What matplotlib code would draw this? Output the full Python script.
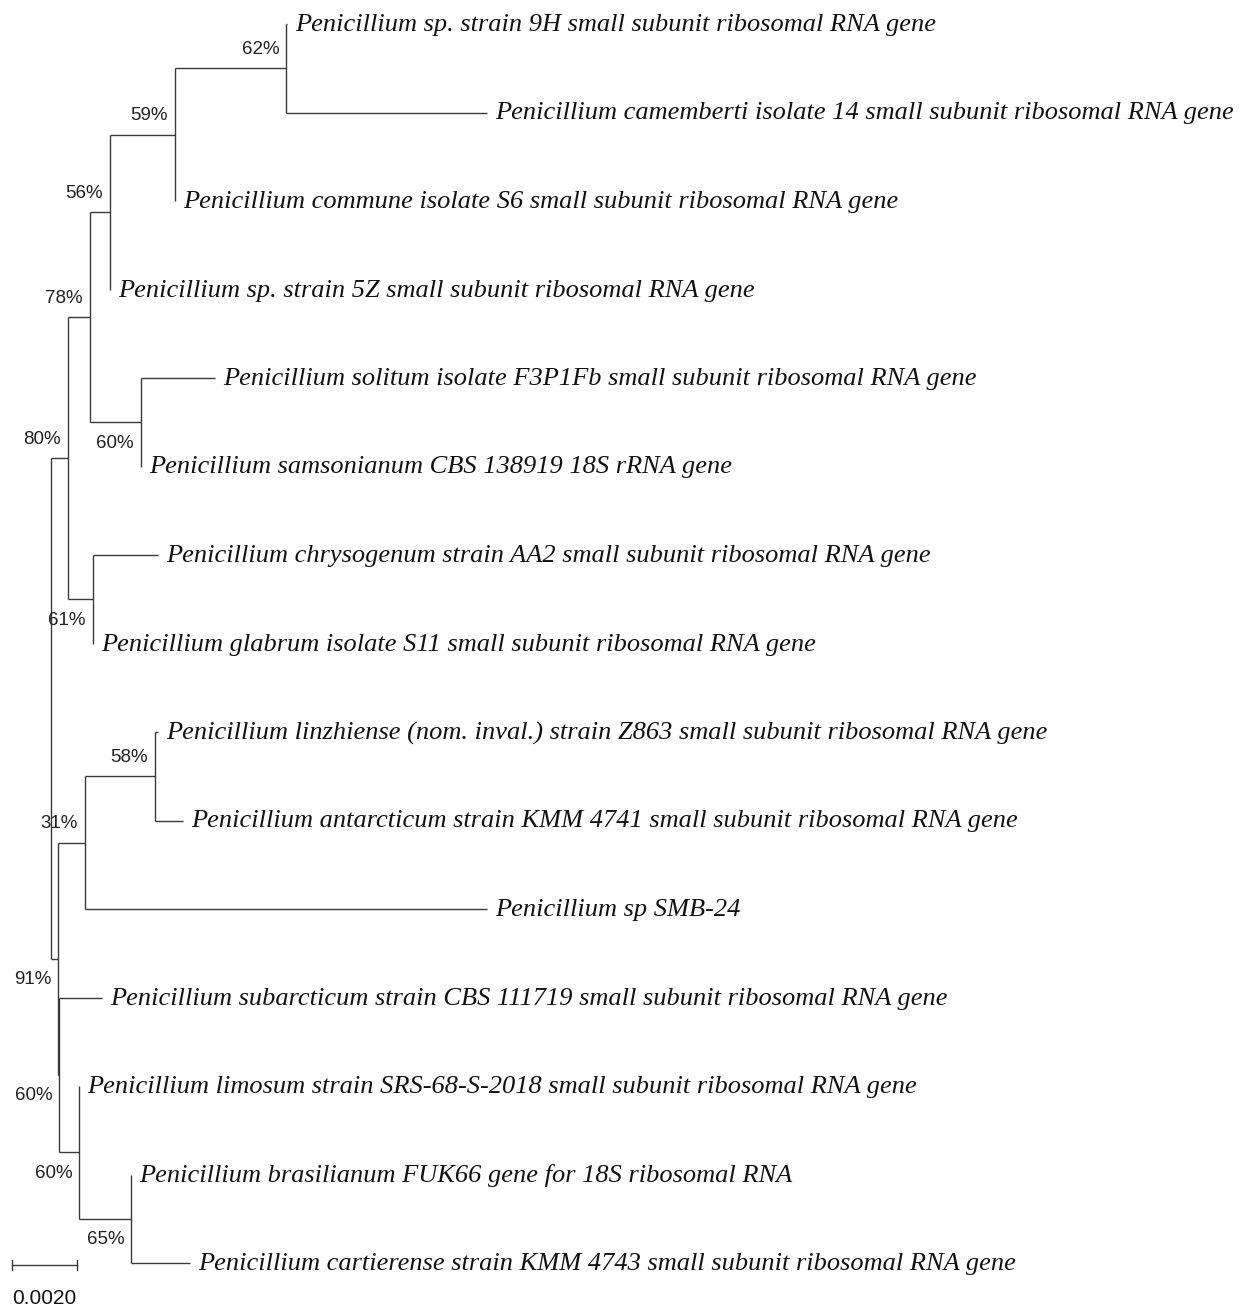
import matplotlib
matplotlib.use("Agg")
import matplotlib.pyplot as plt

# ---- tree data ----
node_names = ["root",
              "n80", "n78", "n56", "n59", "n62",
              "Penicillium sp. strain 9H small subunit ribosomal RNA gene",
              "Penicillium camemberti isolate 14 small subunit ribosomal RNA gene",
              "Penicillium commune isolate S6 small subunit ribosomal RNA gene",
              "Penicillium sp. strain 5Z small subunit ribosomal RNA gene",
              "n60a",
              "Penicillium solitum isolate F3P1Fb small subunit ribosomal RNA gene",
              "Penicillium samsonianum CBS 138919 18S rRNA gene",
              "n61",
              "Penicillium chrysogenum strain AA2 small subunit ribosomal RNA gene",
              "Penicillium glabrum isolate S11 small subunit ribosomal RNA gene",
              "n91", "n31", "n58",
              "Penicillium linzhiense (nom. inval.) strain Z863 small subunit ribosomal RNA gene",
              "Penicillium antarcticum strain KMM 4741 small subunit ribosomal RNA gene",
              "Penicillium sp SMB-24",
              "n60b",
              "Penicillium subarcticum strain CBS 111719 small subunit ribosomal RNA gene",
              "n60c",
              "Penicillium limosum strain SRS-68-S-2018 small subunit ribosomal RNA gene",
              "n65",
              "Penicillium brasilianum FUK66 gene for 18S ribosomal RNA",
              "Penicillium cartierense strain KMM 4743 small subunit ribosomal RNA gene"]
node_parents = [None,
                "root", "n80", "n78", "n56", "n59",
                "n62", "n62", "n59", "n56",
                "n78", "n60a", "n60a",
                "n80", "n61", "n61",
                "root", "n91", "n31", "n58", "n58", "n31",
                "n91", "n60b", "n60b", "n60c", "n60c", "n65", "n65"]
branch_lengths = [0.0,
                  0.00052, 0.00068, 0.00062, 0.0020, 0.00342,
                  0.00003, 0.00618, 0.0, 0.0,
                  0.00157, 0.00228, 0.0,
                  0.00077, 0.0020, 0.0,
                  0.00022, 0.00083, 0.00215, 0.0001, 0.00086, 0.01237,
                  0.00003, 0.00132, 0.00062, 0.0, 0.0016, 0.0, 0.00182]
bootstrap = {"n62": "62%", "n59": "59%", "n56": "56%", "n78": "78%", "n80": "80%",
             "n60a": "60%", "n61": "61%", "n58": "58%", "n31": "31%", "n91": "91%",
             "n60b": "60%", "n60c": "60%", "n65": "65%"}
label_below = ["n60a", "n61", "n91", "n60b", "n60c", "n65"]
scale_length = 0.0020
scale_label = "0.0020"

# ---- layout ----
W, H = 1248, 1309
u = 0.002 / 65.0           # data units per pixel
root_px = 51
leaf_top, leaf_step = 24, 88.5

children = {n: [] for n in node_names}
for n, p in zip(node_names, node_parents):
    if p is not None:
        children[p].append(n)
bl = dict(zip(node_names, branch_lengths))

xpos, ypos = {}, {}
leaf_counter = [0]

def layout(n, x):
    xpos[n] = x
    if not children[n]:
        ypos[n] = leaf_counter[0]
        leaf_counter[0] += 1
    else:
        for c in children[n]:
            layout(c, x + bl[c])
        ys = [ypos[c] for c in children[n]]
        ypos[n] = (min(ys) + max(ys)) / 2.0

layout("root", 0.0)

fig = plt.figure(figsize=(W / 100, H / 100), dpi=100)
ax = fig.add_axes([0, 0, 1, 1])
ax.set_xlim(-root_px * u, (W - root_px) * u)
ax.set_ylim((H - leaf_top) / leaf_step, -leaf_top / leaf_step)
ax.axis("off")

lc = "#3a3a3a"
lw = 1.0
for n in node_names:
    if children[n]:
        ys = [ypos[c] for c in children[n]]
        ax.plot([xpos[n], xpos[n]], [min(ys), max(ys)], color=lc, lw=lw, solid_capstyle="butt")
        for c in children[n]:
            ax.plot([xpos[n], xpos[c]], [ypos[c], ypos[c]], color=lc, lw=lw, solid_capstyle="butt")
    else:
        ax.text(xpos[n] + 8 * u, ypos[n] + 1 / leaf_step, n, fontsize=19, family="Liberation Serif",
                style="italic", va="center", ha="left", color="#111111")

dy = 20 / leaf_step
for n, lab in bootstrap.items():
    yy = ypos[n] + dy + 1 / leaf_step if n in label_below else ypos[n] - dy + 1 / leaf_step
    ax.text(xpos[n] - 7 * u, yy, lab, fontsize=13.5, family="Liberation Sans",
            ha="right", va="center", color="#222222")

# scale bar
sx0 = (12 - root_px) * u
sy = (1265 - leaf_top) / leaf_step
tick = 5 / leaf_step
ax.plot([sx0, sx0 + scale_length], [sy, sy], color=lc, lw=lw)
ax.plot([sx0, sx0], [sy - tick, sy + tick], color=lc, lw=lw)
ax.plot([sx0 + scale_length, sx0 + scale_length], [sy - tick, sy + tick], color=lc, lw=lw)
ax.text(sx0 + scale_length / 2, (1299 - leaf_top) / leaf_step, scale_label, fontsize=15,
        family="Liberation Sans", ha="center", va="center", color="#111111")

fig.savefig("out.png", dpi=100)
